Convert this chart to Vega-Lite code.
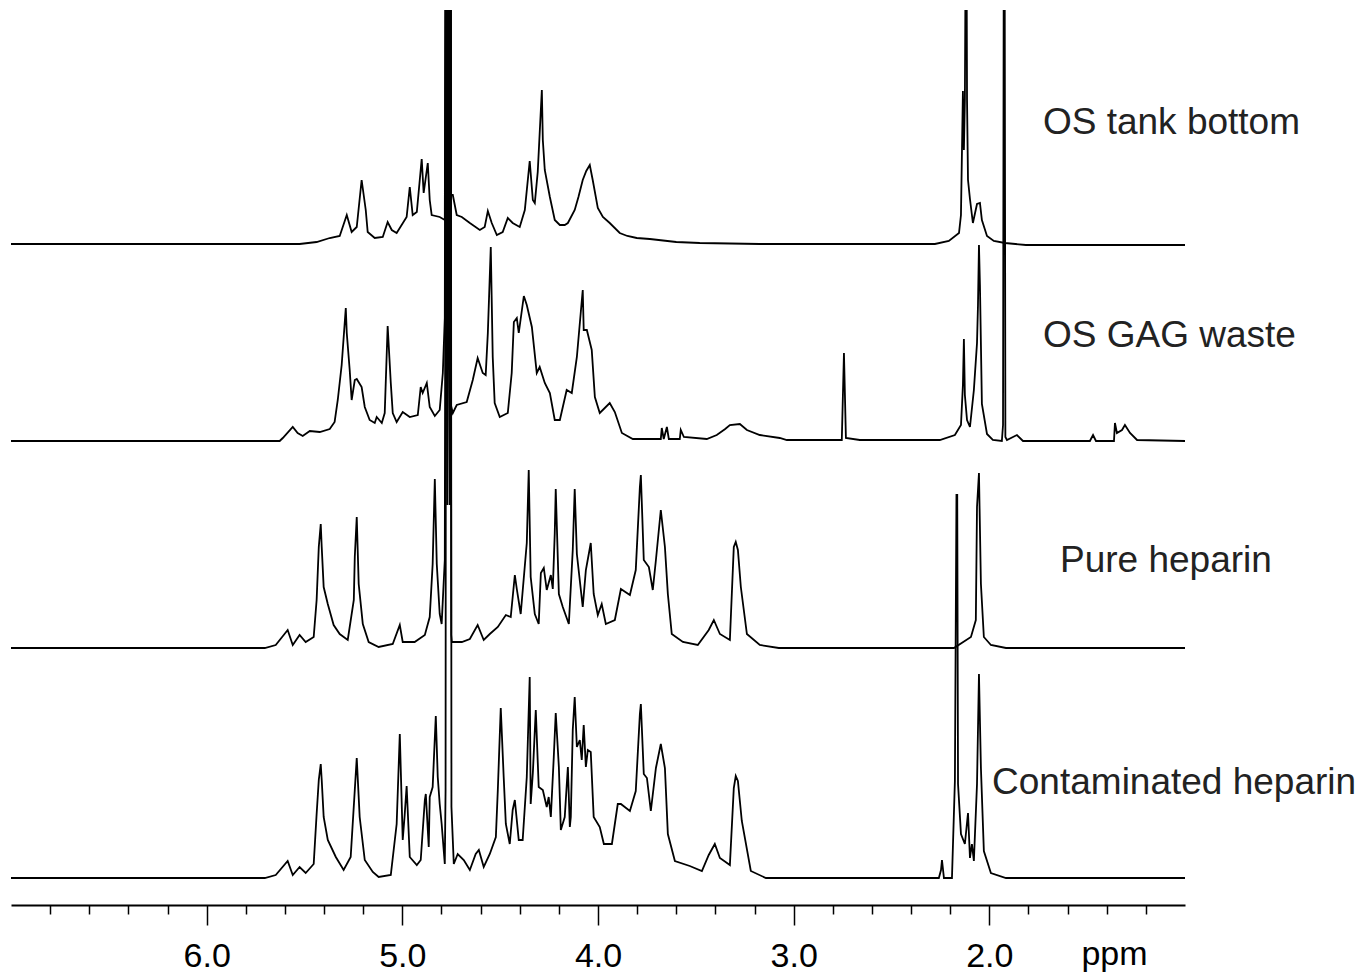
{
"$schema": "https://vega.github.io/schema/vega-lite/v6.json",
"width": 1174,
"height": 895,
"autosize": "none",
"padding": {"left": 11, "top": 10, "right": 178, "bottom": 70},
"background": "white",
"config": {"view": {"stroke": null}, "font": "Liberation Sans"},
"layer": [
{"data": {"values": [
{"spectrum":"tank","ppm":7.0,"intensity":66.1},{"spectrum":"tank","ppm":5.525,"intensity":66.1},{"spectrum":"tank","ppm":5.438,"intensity":66.3},{"spectrum":"tank","ppm":5.371,"intensity":66.7},{"spectrum":"tank","ppm":5.320,"intensity":66.9},{"spectrum":"tank","ppm":5.284,"intensity":69.0},{"spectrum":"tank","ppm":5.259,"intensity":67.3},{"spectrum":"tank","ppm":5.233,"intensity":67.8},{"spectrum":"tank","ppm":5.208,"intensity":72.5},{"spectrum":"tank","ppm":5.187,"intensity":69.5},{"spectrum":"tank","ppm":5.177,"intensity":67.3},{"spectrum":"tank","ppm":5.141,"intensity":66.7},{"spectrum":"tank","ppm":5.100,"intensity":66.8},{"spectrum":"tank","ppm":5.075,"intensity":68.3},{"spectrum":"tank","ppm":5.054,"intensity":67.5},{"spectrum":"tank","ppm":5.029,"intensity":67.2},{"spectrum":"tank","ppm":4.978,"intensity":68.8},{"spectrum":"tank","ppm":4.962,"intensity":71.8},{"spectrum":"tank","ppm":4.947,"intensity":69.0},{"spectrum":"tank","ppm":4.926,"intensity":69.3},{"spectrum":"tank","ppm":4.901,"intensity":74.6},{"spectrum":"tank","ppm":4.891,"intensity":71.2},{"spectrum":"tank","ppm":4.870,"intensity":74.2},{"spectrum":"tank","ppm":4.860,"intensity":70.5},{"spectrum":"tank","ppm":4.850,"intensity":69.0},{"spectrum":"tank","ppm":4.809,"intensity":68.8},{"spectrum":"tank","ppm":4.783,"intensity":68.5},{"spectrum":"tank","ppm":4.778,"intensity":100},{"spectrum":"tank","ppm":4.775,"intensity":72},{"spectrum":"tank","ppm":4.772,"intensity":100},{"spectrum":"tank","ppm":4.769,"intensity":72},{"spectrum":"tank","ppm":4.766,"intensity":100},{"spectrum":"tank","ppm":4.763,"intensity":72},{"spectrum":"tank","ppm":4.760,"intensity":100},{"spectrum":"tank","ppm":4.757,"intensity":72},{"spectrum":"tank","ppm":4.754,"intensity":100},{"spectrum":"tank","ppm":4.751,"intensity":71},{"spectrum":"tank","ppm":4.742,"intensity":71.0},{"spectrum":"tank","ppm":4.722,"intensity":69.0},{"spectrum":"tank","ppm":4.696,"intensity":68.8},{"spectrum":"tank","ppm":4.655,"intensity":68.2},{"spectrum":"tank","ppm":4.604,"intensity":67.5},{"spectrum":"tank","ppm":4.579,"intensity":67.8},{"spectrum":"tank","ppm":4.563,"intensity":69.4},{"spectrum":"tank","ppm":4.543,"intensity":68.2},{"spectrum":"tank","ppm":4.517,"intensity":67.0},{"spectrum":"tank","ppm":4.487,"intensity":67.3},{"spectrum":"tank","ppm":4.461,"intensity":68.7},{"spectrum":"tank","ppm":4.436,"intensity":68.2},{"spectrum":"tank","ppm":4.400,"intensity":67.8},{"spectrum":"tank","ppm":4.374,"intensity":69.5},{"spectrum":"tank","ppm":4.349,"intensity":74.4},{"spectrum":"tank","ppm":4.333,"intensity":70.5},{"spectrum":"tank","ppm":4.323,"intensity":70.2},{"spectrum":"tank","ppm":4.308,"intensity":73.3},{"spectrum":"tank","ppm":4.287,"intensity":81.5},{"spectrum":"tank","ppm":4.282,"intensity":76.5},{"spectrum":"tank","ppm":4.272,"intensity":73.5},{"spectrum":"tank","ppm":4.246,"intensity":70.8},{"spectrum":"tank","ppm":4.221,"intensity":68.5},{"spectrum":"tank","ppm":4.195,"intensity":68.0},{"spectrum":"tank","ppm":4.170,"intensity":68.0},{"spectrum":"tank","ppm":4.154,"intensity":68.2},{"spectrum":"tank","ppm":4.119,"intensity":69.5},{"spectrum":"tank","ppm":4.100,"intensity":70.8},{"spectrum":"tank","ppm":4.078,"intensity":72.5},{"spectrum":"tank","ppm":4.060,"intensity":73.4},{"spectrum":"tank","ppm":4.042,"intensity":74.0},{"spectrum":"tank","ppm":4.027,"intensity":72.5},{"spectrum":"tank","ppm":4.001,"intensity":69.7},{"spectrum":"tank","ppm":3.975,"intensity":68.8},{"spectrum":"tank","ppm":3.940,"intensity":68.2},{"spectrum":"tank","ppm":3.889,"intensity":67.2},{"spectrum":"tank","ppm":3.850,"intensity":66.9},{"spectrum":"tank","ppm":3.802,"intensity":66.7},{"spectrum":"tank","ppm":3.735,"intensity":66.6},{"spectrum":"tank","ppm":3.600,"intensity":66.3},{"spectrum":"tank","ppm":3.480,"intensity":66.2},{"spectrum":"tank","ppm":3.173,"intensity":66.1},{"spectrum":"tank","ppm":2.278,"intensity":66.1},{"spectrum":"tank","ppm":2.207,"intensity":66.4},{"spectrum":"tank","ppm":2.155,"intensity":67.2},{"spectrum":"tank","ppm":2.145,"intensity":69.0},{"spectrum":"tank","ppm":2.135,"intensity":81.4},{"spectrum":"tank","ppm":2.130,"intensity":75.5},{"spectrum":"tank","ppm":2.125,"intensity":80.5},{"spectrum":"tank","ppm":2.120,"intensity":100},{"spectrum":"tank","ppm":2.117,"intensity":100},{"spectrum":"tank","ppm":2.114,"intensity":80.5},{"spectrum":"tank","ppm":2.109,"intensity":72.5},{"spectrum":"tank","ppm":2.099,"intensity":70.6},{"spectrum":"tank","ppm":2.084,"intensity":68.2},{"spectrum":"tank","ppm":2.063,"intensity":70.1},{"spectrum":"tank","ppm":2.048,"intensity":70.2},{"spectrum":"tank","ppm":2.038,"intensity":68.5},{"spectrum":"tank","ppm":2.012,"intensity":66.9},{"spectrum":"tank","ppm":1.977,"intensity":66.4},{"spectrum":"tank","ppm":1.920,"intensity":66.2},{"spectrum":"tank","ppm":1.813,"intensity":66.0},{"spectrum":"tank","ppm":1.0,"intensity":66.0},
{"spectrum":"gag","ppm":7.0,"intensity":46.4},{"spectrum":"gag","ppm":5.627,"intensity":46.4},{"spectrum":"gag","ppm":5.611,"intensity":46.7},{"spectrum":"gag","ppm":5.560,"intensity":47.8},{"spectrum":"gag","ppm":5.535,"intensity":47.2},{"spectrum":"gag","ppm":5.509,"intensity":46.9},{"spectrum":"gag","ppm":5.473,"intensity":47.4},{"spectrum":"gag","ppm":5.422,"intensity":47.3},{"spectrum":"gag","ppm":5.371,"intensity":47.6},{"spectrum":"gag","ppm":5.346,"intensity":48.3},{"spectrum":"gag","ppm":5.330,"intensity":50.5},{"spectrum":"gag","ppm":5.310,"intensity":54.0},{"spectrum":"gag","ppm":5.289,"intensity":59.7},{"spectrum":"gag","ppm":5.284,"intensity":57.2},{"spectrum":"gag","ppm":5.269,"intensity":53.5},{"spectrum":"gag","ppm":5.259,"intensity":50.5},{"spectrum":"gag","ppm":5.243,"intensity":52.5},{"spectrum":"gag","ppm":5.233,"intensity":52.6},{"spectrum":"gag","ppm":5.208,"intensity":51.8},{"spectrum":"gag","ppm":5.192,"intensity":49.8},{"spectrum":"gag","ppm":5.167,"intensity":48.5},{"spectrum":"gag","ppm":5.141,"intensity":48.2},{"spectrum":"gag","ppm":5.131,"intensity":48.8},{"spectrum":"gag","ppm":5.105,"intensity":48.2},{"spectrum":"gag","ppm":5.090,"intensity":49.2},{"spectrum":"gag","ppm":5.075,"intensity":57.9},{"spectrum":"gag","ppm":5.059,"intensity":52.2},{"spectrum":"gag","ppm":5.049,"intensity":49.2},{"spectrum":"gag","ppm":5.029,"intensity":48.3},{"spectrum":"gag","ppm":4.998,"intensity":49.3},{"spectrum":"gag","ppm":4.962,"intensity":48.8},{"spectrum":"gag","ppm":4.921,"intensity":49.0},{"spectrum":"gag","ppm":4.906,"intensity":51.8},{"spectrum":"gag","ppm":4.896,"intensity":51.2},{"spectrum":"gag","ppm":4.875,"intensity":52.2},{"spectrum":"gag","ppm":4.860,"intensity":49.8},{"spectrum":"gag","ppm":4.834,"intensity":48.9},{"spectrum":"gag","ppm":4.809,"intensity":49.5},{"spectrum":"gag","ppm":4.793,"intensity":53.2},{"spectrum":"gag","ppm":4.783,"intensity":58.7},{"spectrum":"gag","ppm":4.779,"intensity":100},{"spectrum":"gag","ppm":4.776,"intensity":56},{"spectrum":"gag","ppm":4.772,"intensity":100},{"spectrum":"gag","ppm":4.768,"intensity":56},{"spectrum":"gag","ppm":4.764,"intensity":100},{"spectrum":"gag","ppm":4.760,"intensity":56},{"spectrum":"gag","ppm":4.756,"intensity":100},{"spectrum":"gag","ppm":4.752,"intensity":50},{"spectrum":"gag","ppm":4.742,"intensity":49.2},{"spectrum":"gag","ppm":4.722,"intensity":50.0},{"spectrum":"gag","ppm":4.671,"intensity":50.3},{"spectrum":"gag","ppm":4.640,"intensity":52.5},{"spectrum":"gag","ppm":4.615,"intensity":54.7},{"spectrum":"gag","ppm":4.589,"intensity":53.2},{"spectrum":"gag","ppm":4.574,"intensity":53.0},{"spectrum":"gag","ppm":4.563,"intensity":57.2},{"spectrum":"gag","ppm":4.548,"intensity":65.8},{"spectrum":"gag","ppm":4.538,"intensity":54.8},{"spectrum":"gag","ppm":4.528,"intensity":50.2},{"spectrum":"gag","ppm":4.502,"intensity":48.8},{"spectrum":"gag","ppm":4.461,"intensity":49.2},{"spectrum":"gag","ppm":4.441,"intensity":53.2},{"spectrum":"gag","ppm":4.430,"intensity":58.3},{"spectrum":"gag","ppm":4.415,"intensity":58.7},{"spectrum":"gag","ppm":4.405,"intensity":57.2},{"spectrum":"gag","ppm":4.379,"intensity":60.9},{"spectrum":"gag","ppm":4.364,"intensity":60.0},{"spectrum":"gag","ppm":4.338,"intensity":57.8},{"spectrum":"gag","ppm":4.313,"intensity":53.2},{"spectrum":"gag","ppm":4.298,"intensity":53.8},{"spectrum":"gag","ppm":4.272,"intensity":52.2},{"spectrum":"gag","ppm":4.246,"intensity":51.2},{"spectrum":"gag","ppm":4.221,"intensity":48.5},{"spectrum":"gag","ppm":4.195,"intensity":48.5},{"spectrum":"gag","ppm":4.160,"intensity":51.5},{"spectrum":"gag","ppm":4.134,"intensity":51.2},{"spectrum":"gag","ppm":4.108,"intensity":54.8},{"spectrum":"gag","ppm":4.078,"intensity":61.5},{"spectrum":"gag","ppm":4.073,"intensity":57.5},{"spectrum":"gag","ppm":4.057,"intensity":57.5},{"spectrum":"gag","ppm":4.032,"intensity":55.5},{"spectrum":"gag","ppm":4.016,"intensity":50.8},{"spectrum":"gag","ppm":3.991,"intensity":49.2},{"spectrum":"gag","ppm":3.940,"intensity":50.2},{"spectrum":"gag","ppm":3.914,"intensity":49.3},{"spectrum":"gag","ppm":3.878,"intensity":47.2},{"spectrum":"gag","ppm":3.822,"intensity":46.6},{"spectrum":"gag","ppm":3.679,"intensity":46.6},{"spectrum":"gag","ppm":3.674,"intensity":47.7},{"spectrum":"gag","ppm":3.664,"intensity":46.6},{"spectrum":"gag","ppm":3.648,"intensity":47.8},{"spectrum":"gag","ppm":3.638,"intensity":46.6},{"spectrum":"gag","ppm":3.582,"intensity":46.6},{"spectrum":"gag","ppm":3.577,"intensity":47.5},{"spectrum":"gag","ppm":3.561,"intensity":46.8},{"spectrum":"gag","ppm":3.444,"intensity":46.6},{"spectrum":"gag","ppm":3.393,"intensity":47.0},{"spectrum":"gag","ppm":3.350,"intensity":47.6},{"spectrum":"gag","ppm":3.326,"intensity":48.0},{"spectrum":"gag","ppm":3.275,"intensity":48.1},{"spectrum":"gag","ppm":3.239,"intensity":47.5},{"spectrum":"gag","ppm":3.173,"intensity":47.0},{"spectrum":"gag","ppm":3.071,"intensity":46.7},{"spectrum":"gag","ppm":3.035,"intensity":46.5},{"spectrum":"gag","ppm":2.754,"intensity":46.5},{"spectrum":"gag","ppm":2.743,"intensity":55.2},{"spectrum":"gag","ppm":2.733,"intensity":46.7},{"spectrum":"gag","ppm":2.662,"intensity":46.5},{"spectrum":"gag","ppm":2.253,"intensity":46.5},{"spectrum":"gag","ppm":2.176,"intensity":47.0},{"spectrum":"gag","ppm":2.145,"intensity":48.0},{"spectrum":"gag","ppm":2.135,"intensity":52.0},{"spectrum":"gag","ppm":2.130,"intensity":56.6},{"spectrum":"gag","ppm":2.125,"intensity":51.0},{"spectrum":"gag","ppm":2.114,"intensity":48.5},{"spectrum":"gag","ppm":2.099,"intensity":47.8},{"spectrum":"gag","ppm":2.079,"intensity":51.5},{"spectrum":"gag","ppm":2.063,"intensity":56.2},{"spectrum":"gag","ppm":2.058,"intensity":60.0},{"spectrum":"gag","ppm":2.053,"intensity":66.0},{"spectrum":"gag","ppm":2.048,"intensity":62.0},{"spectrum":"gag","ppm":2.038,"intensity":50.1},{"spectrum":"gag","ppm":2.012,"intensity":47.1},{"spectrum":"gag","ppm":1.982,"intensity":46.5},{"spectrum":"gag","ppm":1.936,"intensity":46.4},{"spectrum":"gag","ppm":1.930,"intensity":48.0},{"spectrum":"gag","ppm":1.926,"intensity":100},{"spectrum":"gag","ppm":1.922,"intensity":100},{"spectrum":"gag","ppm":1.918,"intensity":46.8},{"spectrum":"gag","ppm":1.910,"intensity":46.5},{"spectrum":"gag","ppm":1.859,"intensity":47.0},{"spectrum":"gag","ppm":1.828,"intensity":46.4},{"spectrum":"gag","ppm":1.486,"intensity":46.4},{"spectrum":"gag","ppm":1.470,"intensity":47.0},{"spectrum":"gag","ppm":1.455,"intensity":46.4},{"spectrum":"gag","ppm":1.363,"intensity":46.4},{"spectrum":"gag","ppm":1.358,"intensity":48.2},{"spectrum":"gag","ppm":1.348,"intensity":47.2},{"spectrum":"gag","ppm":1.322,"intensity":47.5},{"spectrum":"gag","ppm":1.307,"intensity":48.0},{"spectrum":"gag","ppm":1.281,"intensity":47.2},{"spectrum":"gag","ppm":1.245,"intensity":46.5},{"spectrum":"gag","ppm":1.0,"intensity":46.4},
{"spectrum":"pure","ppm":7.0,"intensity":25.7},{"spectrum":"pure","ppm":5.703,"intensity":25.7},{"spectrum":"pure","ppm":5.647,"intensity":26.0},{"spectrum":"pure","ppm":5.586,"intensity":27.5},{"spectrum":"pure","ppm":5.560,"intensity":26.0},{"spectrum":"pure","ppm":5.525,"intensity":27.0},{"spectrum":"pure","ppm":5.494,"intensity":26.3},{"spectrum":"pure","ppm":5.453,"intensity":26.8},{"spectrum":"pure","ppm":5.438,"intensity":30.5},{"spectrum":"pure","ppm":5.427,"intensity":35.8},{"spectrum":"pure","ppm":5.417,"intensity":38.1},{"spectrum":"pure","ppm":5.412,"intensity":35.8},{"spectrum":"pure","ppm":5.402,"intensity":31.8},{"spectrum":"pure","ppm":5.381,"intensity":30.1},{"spectrum":"pure","ppm":5.351,"intensity":28.0},{"spectrum":"pure","ppm":5.320,"intensity":27.1},{"spectrum":"pure","ppm":5.279,"intensity":26.5},{"spectrum":"pure","ppm":5.248,"intensity":30.5},{"spectrum":"pure","ppm":5.243,"intensity":34.8},{"spectrum":"pure","ppm":5.233,"intensity":38.8},{"spectrum":"pure","ppm":5.223,"intensity":32.1},{"spectrum":"pure","ppm":5.202,"intensity":28.1},{"spectrum":"pure","ppm":5.172,"intensity":26.3},{"spectrum":"pure","ppm":5.121,"intensity":25.8},{"spectrum":"pure","ppm":5.049,"intensity":26.1},{"spectrum":"pure","ppm":5.013,"intensity":28.0},{"spectrum":"pure","ppm":4.998,"intensity":26.3},{"spectrum":"pure","ppm":4.937,"intensity":26.3},{"spectrum":"pure","ppm":4.885,"intensity":27.0},{"spectrum":"pure","ppm":4.860,"intensity":28.8},{"spectrum":"pure","ppm":4.845,"intensity":34.1},{"spectrum":"pure","ppm":4.834,"intensity":42.6},{"spectrum":"pure","ppm":4.824,"intensity":34.1},{"spectrum":"pure","ppm":4.809,"intensity":29.1},{"spectrum":"pure","ppm":4.799,"intensity":28.1},{"spectrum":"pure","ppm":4.783,"intensity":34.5},{"spectrum":"pure","ppm":4.777,"intensity":100},{"spectrum":"pure","ppm":4.771,"intensity":40},{"spectrum":"pure","ppm":4.765,"intensity":100},{"spectrum":"pure","ppm":4.759,"intensity":40},{"spectrum":"pure","ppm":4.753,"intensity":100},{"spectrum":"pure","ppm":4.750,"intensity":27},{"spectrum":"pure","ppm":4.747,"intensity":26.3},{"spectrum":"pure","ppm":4.696,"intensity":26.3},{"spectrum":"pure","ppm":4.655,"intensity":26.6},{"spectrum":"pure","ppm":4.615,"intensity":28.0},{"spectrum":"pure","ppm":4.584,"intensity":26.5},{"spectrum":"pure","ppm":4.553,"intensity":27.1},{"spectrum":"pure","ppm":4.512,"intensity":27.8},{"spectrum":"pure","ppm":4.471,"intensity":29.0},{"spectrum":"pure","ppm":4.446,"intensity":28.8},{"spectrum":"pure","ppm":4.425,"intensity":33.0},{"spectrum":"pure","ppm":4.415,"intensity":31.6},{"spectrum":"pure","ppm":4.395,"intensity":29.1},{"spectrum":"pure","ppm":4.364,"intensity":36.2},{"spectrum":"pure","ppm":4.354,"intensity":43.5},{"spectrum":"pure","ppm":4.344,"intensity":32.8},{"spectrum":"pure","ppm":4.323,"intensity":29.1},{"spectrum":"pure","ppm":4.303,"intensity":28.1},{"spectrum":"pure","ppm":4.292,"intensity":33.2},{"spectrum":"pure","ppm":4.277,"intensity":33.7},{"spectrum":"pure","ppm":4.262,"intensity":31.5},{"spectrum":"pure","ppm":4.241,"intensity":33.0},{"spectrum":"pure","ppm":4.231,"intensity":31.6},{"spectrum":"pure","ppm":4.221,"intensity":37.2},{"spectrum":"pure","ppm":4.216,"intensity":41.6},{"spectrum":"pure","ppm":4.200,"intensity":31.1},{"spectrum":"pure","ppm":4.180,"intensity":29.8},{"spectrum":"pure","ppm":4.149,"intensity":28.1},{"spectrum":"pure","ppm":4.129,"intensity":35.5},{"spectrum":"pure","ppm":4.119,"intensity":41.6},{"spectrum":"pure","ppm":4.108,"intensity":35.1},{"spectrum":"pure","ppm":4.078,"intensity":29.8},{"spectrum":"pure","ppm":4.062,"intensity":33.5},{"spectrum":"pure","ppm":4.037,"intensity":36.2},{"spectrum":"pure","ppm":4.022,"intensity":31.1},{"spectrum":"pure","ppm":4.001,"intensity":29.0},{"spectrum":"pure","ppm":3.981,"intensity":30.1},{"spectrum":"pure","ppm":3.960,"intensity":28.1},{"spectrum":"pure","ppm":3.914,"intensity":28.5},{"spectrum":"pure","ppm":3.883,"intensity":31.6},{"spectrum":"pure","ppm":3.837,"intensity":31.0},{"spectrum":"pure","ppm":3.807,"intensity":33.5},{"spectrum":"pure","ppm":3.786,"intensity":41.8},{"spectrum":"pure","ppm":3.781,"intensity":43.0},{"spectrum":"pure","ppm":3.766,"intensity":34.5},{"spectrum":"pure","ppm":3.740,"intensity":33.8},{"spectrum":"pure","ppm":3.720,"intensity":31.5},{"spectrum":"pure","ppm":3.704,"intensity":34.5},{"spectrum":"pure","ppm":3.679,"intensity":39.5},{"spectrum":"pure","ppm":3.658,"intensity":35.8},{"spectrum":"pure","ppm":3.643,"intensity":31.1},{"spectrum":"pure","ppm":3.623,"intensity":27.1},{"spectrum":"pure","ppm":3.566,"intensity":26.3},{"spectrum":"pure","ppm":3.490,"intensity":26.0},{"spectrum":"pure","ppm":3.434,"intensity":27.5},{"spectrum":"pure","ppm":3.408,"intensity":28.5},{"spectrum":"pure","ppm":3.377,"intensity":27.1},{"spectrum":"pure","ppm":3.326,"intensity":26.5},{"spectrum":"pure","ppm":3.306,"intensity":35.8},{"spectrum":"pure","ppm":3.296,"intensity":36.3},{"spectrum":"pure","ppm":3.285,"intensity":35.5},{"spectrum":"pure","ppm":3.270,"intensity":31.8},{"spectrum":"pure","ppm":3.239,"intensity":27.1},{"spectrum":"pure","ppm":3.173,"intensity":26.0},{"spectrum":"pure","ppm":3.076,"intensity":25.7},{"spectrum":"pure","ppm":2.181,"intensity":25.7},{"spectrum":"pure","ppm":2.094,"intensity":26.8},{"spectrum":"pure","ppm":2.069,"intensity":28.5},{"spectrum":"pure","ppm":2.063,"intensity":39.8},{"spectrum":"pure","ppm":2.053,"intensity":43.2},{"spectrum":"pure","ppm":2.043,"intensity":32.1},{"spectrum":"pure","ppm":2.028,"intensity":26.8},{"spectrum":"pure","ppm":1.992,"intensity":26.0},{"spectrum":"pure","ppm":1.915,"intensity":25.7},{"spectrum":"pure","ppm":1.0,"intensity":25.7},
{"spectrum":"cont","ppm":7.0,"intensity":2.7},{"spectrum":"cont","ppm":5.703,"intensity":2.7},{"spectrum":"cont","ppm":5.647,"intensity":3.0},{"spectrum":"cont","ppm":5.586,"intensity":4.4},{"spectrum":"cont","ppm":5.560,"intensity":3.0},{"spectrum":"cont","ppm":5.525,"intensity":3.8},{"spectrum":"cont","ppm":5.494,"intensity":3.2},{"spectrum":"cont","ppm":5.453,"intensity":4.1},{"spectrum":"cont","ppm":5.438,"intensity":9.1},{"spectrum":"cont","ppm":5.427,"intensity":12.5},{"spectrum":"cont","ppm":5.417,"intensity":14.1},{"spectrum":"cont","ppm":5.412,"intensity":12.5},{"spectrum":"cont","ppm":5.402,"intensity":8.8},{"spectrum":"cont","ppm":5.381,"intensity":6.5},{"spectrum":"cont","ppm":5.340,"intensity":4.8},{"spectrum":"cont","ppm":5.300,"intensity":3.5},{"spectrum":"cont","ppm":5.264,"intensity":4.8},{"spectrum":"cont","ppm":5.243,"intensity":11.5},{"spectrum":"cont","ppm":5.233,"intensity":14.7},{"spectrum":"cont","ppm":5.218,"intensity":8.8},{"spectrum":"cont","ppm":5.192,"intensity":4.5},{"spectrum":"cont","ppm":5.151,"intensity":3.3},{"spectrum":"cont","ppm":5.121,"intensity":2.8},{"spectrum":"cont","ppm":5.059,"intensity":3.0},{"spectrum":"cont","ppm":5.029,"intensity":8.1},{"spectrum":"cont","ppm":5.013,"intensity":17.1},{"spectrum":"cont","ppm":4.998,"intensity":6.5},{"spectrum":"cont","ppm":4.988,"intensity":9.0},{"spectrum":"cont","ppm":4.978,"intensity":11.9},{"spectrum":"cont","ppm":4.962,"intensity":4.8},{"spectrum":"cont","ppm":4.926,"intensity":4.0},{"spectrum":"cont","ppm":4.906,"intensity":4.5},{"spectrum":"cont","ppm":4.885,"intensity":10.5},{"spectrum":"cont","ppm":4.880,"intensity":11.1},{"spectrum":"cont","ppm":4.865,"intensity":5.8},{"spectrum":"cont","ppm":4.860,"intensity":10.8},{"spectrum":"cont","ppm":4.845,"intensity":11.8},{"spectrum":"cont","ppm":4.829,"intensity":18.9},{"spectrum":"cont","ppm":4.819,"intensity":12.8},{"spectrum":"cont","ppm":4.809,"intensity":10.1},{"spectrum":"cont","ppm":4.799,"intensity":8.1},{"spectrum":"cont","ppm":4.783,"intensity":4.1},{"spectrum":"cont","ppm":4.779,"intensity":11.5},{"spectrum":"cont","ppm":4.776,"intensity":100},{"spectrum":"cont","ppm":4.752,"intensity":100},{"spectrum":"cont","ppm":4.749,"intensity":9.8},{"spectrum":"cont","ppm":4.737,"intensity":4.1},{"spectrum":"cont","ppm":4.717,"intensity":5.1},{"spectrum":"cont","ppm":4.686,"intensity":4.5},{"spectrum":"cont","ppm":4.655,"intensity":3.5},{"spectrum":"cont","ppm":4.625,"intensity":5.1},{"spectrum":"cont","ppm":4.609,"intensity":5.5},{"spectrum":"cont","ppm":4.584,"intensity":3.8},{"spectrum":"cont","ppm":4.553,"intensity":5.1},{"spectrum":"cont","ppm":4.522,"intensity":6.8},{"spectrum":"cont","ppm":4.512,"intensity":11.5},{"spectrum":"cont","ppm":4.497,"intensity":19.7},{"spectrum":"cont","ppm":4.482,"intensity":12.8},{"spectrum":"cont","ppm":4.471,"intensity":8.1},{"spectrum":"cont","ppm":4.451,"intensity":6.1},{"spectrum":"cont","ppm":4.436,"intensity":9.5},{"spectrum":"cont","ppm":4.425,"intensity":10.5},{"spectrum":"cont","ppm":4.405,"intensity":6.5},{"spectrum":"cont","ppm":4.385,"intensity":6.5},{"spectrum":"cont","ppm":4.364,"intensity":12.8},{"spectrum":"cont","ppm":4.349,"intensity":22.8},{"spectrum":"cont","ppm":4.344,"intensity":10.1},{"spectrum":"cont","ppm":4.333,"intensity":13.2},{"spectrum":"cont","ppm":4.318,"intensity":19.5},{"spectrum":"cont","ppm":4.303,"intensity":11.8},{"spectrum":"cont","ppm":4.282,"intensity":11.5},{"spectrum":"cont","ppm":4.262,"intensity":9.8},{"spectrum":"cont","ppm":4.252,"intensity":10.8},{"spectrum":"cont","ppm":4.241,"intensity":8.8},{"spectrum":"cont","ppm":4.226,"intensity":14.8},{"spectrum":"cont","ppm":4.216,"intensity":19.2},{"spectrum":"cont","ppm":4.200,"intensity":13.8},{"spectrum":"cont","ppm":4.190,"intensity":7.5},{"spectrum":"cont","ppm":4.170,"intensity":8.8},{"spectrum":"cont","ppm":4.154,"intensity":13.8},{"spectrum":"cont","ppm":4.144,"intensity":7.8},{"spectrum":"cont","ppm":4.139,"intensity":8.8},{"spectrum":"cont","ppm":4.129,"intensity":17.5},{"spectrum":"cont","ppm":4.119,"intensity":20.8},{"spectrum":"cont","ppm":4.108,"intensity":15.8},{"spectrum":"cont","ppm":4.093,"intensity":16.5},{"spectrum":"cont","ppm":4.083,"intensity":14.5},{"spectrum":"cont","ppm":4.073,"intensity":18.0},{"spectrum":"cont","ppm":4.062,"intensity":13.8},{"spectrum":"cont","ppm":4.052,"intensity":15.5},{"spectrum":"cont","ppm":4.037,"intensity":15.3},{"spectrum":"cont","ppm":4.022,"intensity":8.8},{"spectrum":"cont","ppm":3.991,"intensity":7.8},{"spectrum":"cont","ppm":3.970,"intensity":6.1},{"spectrum":"cont","ppm":3.929,"intensity":6.1},{"spectrum":"cont","ppm":3.899,"intensity":10.1},{"spectrum":"cont","ppm":3.883,"intensity":10.1},{"spectrum":"cont","ppm":3.837,"intensity":9.4},{"spectrum":"cont","ppm":3.807,"intensity":11.4},{"spectrum":"cont","ppm":3.786,"intensity":19.1},{"spectrum":"cont","ppm":3.781,"intensity":20.1},{"spectrum":"cont","ppm":3.766,"intensity":13.1},{"spectrum":"cont","ppm":3.750,"intensity":12.7},{"spectrum":"cont","ppm":3.730,"intensity":9.4},{"spectrum":"cont","ppm":3.704,"intensity":13.7},{"spectrum":"cont","ppm":3.679,"intensity":16.1},{"spectrum":"cont","ppm":3.658,"intensity":13.7},{"spectrum":"cont","ppm":3.643,"intensity":7.1},{"spectrum":"cont","ppm":3.607,"intensity":4.4},{"spectrum":"cont","ppm":3.531,"intensity":3.9},{"spectrum":"cont","ppm":3.469,"intensity":3.4},{"spectrum":"cont","ppm":3.434,"intensity":5.0},{"spectrum":"cont","ppm":3.403,"intensity":6.1},{"spectrum":"cont","ppm":3.377,"intensity":4.7},{"spectrum":"cont","ppm":3.326,"intensity":4.0},{"spectrum":"cont","ppm":3.306,"intensity":11.7},{"spectrum":"cont","ppm":3.296,"intensity":12.9},{"spectrum":"cont","ppm":3.285,"intensity":12.4},{"spectrum":"cont","ppm":3.265,"intensity":8.4},{"spectrum":"cont","ppm":3.219,"intensity":3.4},{"spectrum":"cont","ppm":3.142,"intensity":2.7},{"spectrum":"cont","ppm":2.258,"intensity":2.7},{"spectrum":"cont","ppm":2.247,"intensity":3.5},{"spectrum":"cont","ppm":2.242,"intensity":4.5},{"spectrum":"cont","ppm":2.232,"intensity":2.7},{"spectrum":"cont","ppm":2.191,"intensity":2.7},{"spectrum":"cont","ppm":2.176,"intensity":12.4},{"spectrum":"cont","ppm":2.168,"intensity":41.0},{"spectrum":"cont","ppm":2.164,"intensity":41.0},{"spectrum":"cont","ppm":2.160,"intensity":12.1},{"spectrum":"cont","ppm":2.145,"intensity":7.1},{"spectrum":"cont","ppm":2.125,"intensity":6.1},{"spectrum":"cont","ppm":2.109,"intensity":9.2},{"spectrum":"cont","ppm":2.099,"intensity":4.7},{"spectrum":"cont","ppm":2.089,"intensity":6.1},{"spectrum":"cont","ppm":2.079,"intensity":4.4},{"spectrum":"cont","ppm":2.063,"intensity":12.1},{"spectrum":"cont","ppm":2.053,"intensity":23.1},{"spectrum":"cont","ppm":2.043,"intensity":13.7},{"spectrum":"cont","ppm":2.028,"intensity":5.4},{"spectrum":"cont","ppm":1.992,"intensity":3.2},{"spectrum":"cont","ppm":1.915,"intensity":2.7},{"spectrum":"cont","ppm":1.0,"intensity":2.7}
]},
 "mark": {"type": "line", "color": "black", "strokeWidth": 1.8, "clip": true},
 "encoding": {
  "x": {"field": "ppm", "type": "quantitative", "scale": {"domain": [1, 7], "reverse": true, "nice": false, "zero": false},
        "axis": {"orient": "bottom", "values": [2, 3, 4, 5, 6], "format": ".1f", "grid": false, "tickSize": 20, "tickWidth": 1.5, "tickColor": "black", "domainColor": "black", "domainWidth": 2, "labelFontSize": 34, "labelColor": "black", "labelFont": "Liberation Sans", "labelBaseline": "alphabetic", "labelPadding": 41, "labelFlush": false, "title": "ppm", "titleFontSize": 34, "titleFont": "Liberation Sans", "titleFontWeight": "normal", "titleColor": "black", "titleX": 1103, "titleY": 59, "titleAlign": "center", "titleBaseline": "alphabetic", "titleAnchor": null}},
  "y": {"field": "intensity", "type": "quantitative", "scale": {"domain": [0, 89.5], "nice": false, "zero": false}, "axis": null},
  "detail": {"field": "spectrum", "type": "nominal"}
 }},
{"data": {"values": [
{"label": "OS tank bottom", "ppm": 1.726, "intensity": 77.1},
{"label": "OS GAG waste", "ppm": 1.726, "intensity": 55.8},
{"label": "Pure heparin", "ppm": 1.639, "intensity": 33.3},
{"label": "Contaminated heparin", "ppm": 1.986, "intensity": 11.1}
]},
 "mark": {"type": "text", "align": "left", "baseline": "alphabetic", "fontSize": 37, "font": "Liberation Sans", "color": "#222"},
 "encoding": {
  "x": {"field": "ppm", "type": "quantitative",
        "axis": {"orient": "bottom", "values": [1.2,1.4,1.6,1.8,2.2,2.4,2.6,2.8,3.2,3.4,3.6,3.8,4.2,4.4,4.6,4.8,5.2,5.4,5.6,5.8,6.2,6.4,6.6,6.8], "labels": false, "domain": false, "grid": false, "tickSize": 9, "tickWidth": 1.5, "tickColor": "black", "title": null}},
  "y": {"field": "intensity", "type": "quantitative"},
  "text": {"field": "label"}
 }}
],
"resolve": {"axis": {"x": "independent"}}
}
